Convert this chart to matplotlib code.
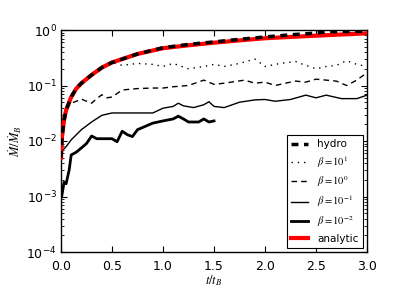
import matplotlib
matplotlib.use("Agg")
import matplotlib.pyplot as plt
import numpy as np

plt.rcParams["mathtext.fontset"] = "stix"

# ---------------------------------------------------------------------------
# Data
# ---------------------------------------------------------------------------
t_analytic = [0.0, 0.01, 0.03, 0.05, 0.1, 0.15, 0.2, 0.3, 0.4, 0.5, 0.75, 1.0,
              1.25, 1.5, 1.75, 2.0, 2.25, 2.5, 2.75, 3.0]
m_analytic = [0.005, 0.012, 0.024, 0.036, 0.062, 0.088, 0.11, 0.155, 0.21, 0.26,
              0.37, 0.47, 0.53, 0.59, 0.65, 0.71, 0.75, 0.79, 0.83, 0.87]

t_hydro = [0.0, 0.01, 0.03, 0.05, 0.1, 0.15, 0.2, 0.3, 0.4, 0.5, 0.75, 1.0,
           1.25, 1.5, 1.75, 2.0, 2.25, 2.5, 2.6, 2.75, 3.0]
m_hydro = [0.005, 0.012, 0.024, 0.036, 0.062, 0.088, 0.11, 0.155, 0.21, 0.26,
           0.37, 0.48, 0.55, 0.61, 0.68, 0.75, 0.82, 0.88, 0.93, 0.94, 0.95]

t_b1 = [0.0, 0.03, 0.05, 0.1, 0.2, 0.3, 0.4, 0.5, 0.6, 0.75, 0.9, 1.0, 1.1,
        1.25, 1.4, 1.5, 1.6, 1.75, 1.9, 2.0, 2.15, 2.3, 2.4, 2.5, 2.6, 2.7,
        2.8, 2.9, 3.0]
m_b1 = [0.005, 0.024, 0.036, 0.062, 0.11, 0.155, 0.21, 0.26, 0.23, 0.25,
        0.24, 0.22, 0.25, 0.2, 0.22, 0.24, 0.22, 0.25, 0.30, 0.22, 0.25, 0.27,
        0.23, 0.2, 0.22, 0.23, 0.28, 0.24, 0.22]

t_b0 = [0.0, 0.03, 0.05, 0.1, 0.15, 0.2, 0.25, 0.3, 0.35, 0.4, 0.45, 0.5, 0.6,
        0.75, 0.9, 1.0, 1.1, 1.25, 1.4, 1.5, 1.6, 1.8, 1.9, 2.0, 2.1, 2.2, 2.3,
        2.4, 2.5, 2.6, 2.7, 2.8, 2.9, 3.0]
m_b0 = [0.005, 0.024, 0.036, 0.048, 0.052, 0.057, 0.052, 0.048, 0.058, 0.068,
        0.06, 0.062, 0.083, 0.088, 0.09, 0.09, 0.095, 0.1, 0.125, 0.105, 0.11,
        0.125, 0.11, 0.115, 0.1, 0.11, 0.12, 0.115, 0.13, 0.125, 0.12, 0.1,
        0.125, 0.17]

t_bm1 = [0.0, 0.05, 0.1, 0.2, 0.3, 0.4, 0.5, 0.6, 0.75, 0.9, 1.0, 1.1, 1.15,
         1.2, 1.3, 1.4, 1.45, 1.5, 1.6, 1.75, 1.9, 2.0, 2.1, 2.25, 2.4, 2.5,
         2.6, 2.75, 2.9, 3.0]
m_bm1 = [0.0063, 0.0079, 0.0105, 0.016, 0.022, 0.029, 0.032, 0.032, 0.032,
         0.032, 0.039, 0.042, 0.048, 0.043, 0.04, 0.045, 0.051, 0.042, 0.04,
         0.05, 0.055, 0.056, 0.052, 0.056, 0.067, 0.06, 0.067, 0.058, 0.058,
         0.067]

t_bm2 = [0.007, 0.03, 0.05, 0.08, 0.1, 0.15, 0.2, 0.25, 0.3, 0.35, 0.5, 0.55,
         0.6, 0.65, 0.7, 0.75, 0.9, 1.0, 1.1, 1.15, 1.2, 1.25, 1.35, 1.4,
         1.45, 1.5]
m_bm2 = [0.001, 0.0018, 0.0017, 0.003, 0.0056, 0.0063, 0.0075, 0.009, 0.0123,
         0.011, 0.011, 0.0097, 0.015, 0.013, 0.012, 0.016, 0.021, 0.023,
         0.025, 0.028, 0.025, 0.022, 0.022, 0.025, 0.022, 0.023]

# ---------------------------------------------------------------------------
# Plot
# ---------------------------------------------------------------------------
fig = plt.figure(figsize=(4.07, 3.05), dpi=100)
ax = fig.add_axes([61 / 407, 1 - 252 / 305, 306 / 407, 222 / 305])

ax.plot(t_hydro, m_hydro, color="k", ls="--", lw=2.5, dashes=(2, 1.6),
        label="hydro", zorder=4)
ax.plot(t_b1, m_b1, color="k", ls=":", lw=1.0, dashes=(1, 3.5),
        label=r"$\beta=10^{1}$")
ax.plot(t_b0, m_b0, color="k", ls="--", lw=1.0, dashes=(4, 3),
        label=r"$\beta=10^{0}$")
ax.plot(t_bm1, m_bm1, color="k", lw=1.0, label=r"$\beta=10^{-1}$")
ax.plot(t_bm2, m_bm2, color="k", lw=2.0, label=r"$\beta=10^{-2}$")
ax.plot(t_analytic, m_analytic, color="red", lw=3.0, label="analytic",
        zorder=3)

ax.set_yscale("log")
ax.set_xlim(0, 3.0)
ax.set_ylim(1e-4, 1)
ax.set_xticks(np.arange(0, 3.01, 0.5))
ax.set_xticklabels([f"{v:.1f}" for v in np.arange(0, 3.01, 0.5)])
ax.tick_params(which="both", direction="in", top=True, right=True,
               labelsize=9, pad=3)
ax.tick_params(axis="x", pad=6)
ax.tick_params(which="major", length=4)
ax.tick_params(which="minor", length=2)
for s in ax.spines.values():
    s.set_linewidth(1.0)

ax.set_xlabel(r"$t/t_B$", fontsize=9, labelpad=0)
ax.set_ylabel(r"$\dot{M}/\dot{M}_B$", fontsize=9, labelpad=2)

leg = ax.legend(loc="lower right", fontsize=7.5, handlelength=1.6,
                fancybox=False, framealpha=1, edgecolor="k",
                borderaxespad=0.4, labelspacing=0.45, handletextpad=0.9)
leg.get_frame().set_linewidth(0.8)

fig.savefig("out.png", dpi=100)
